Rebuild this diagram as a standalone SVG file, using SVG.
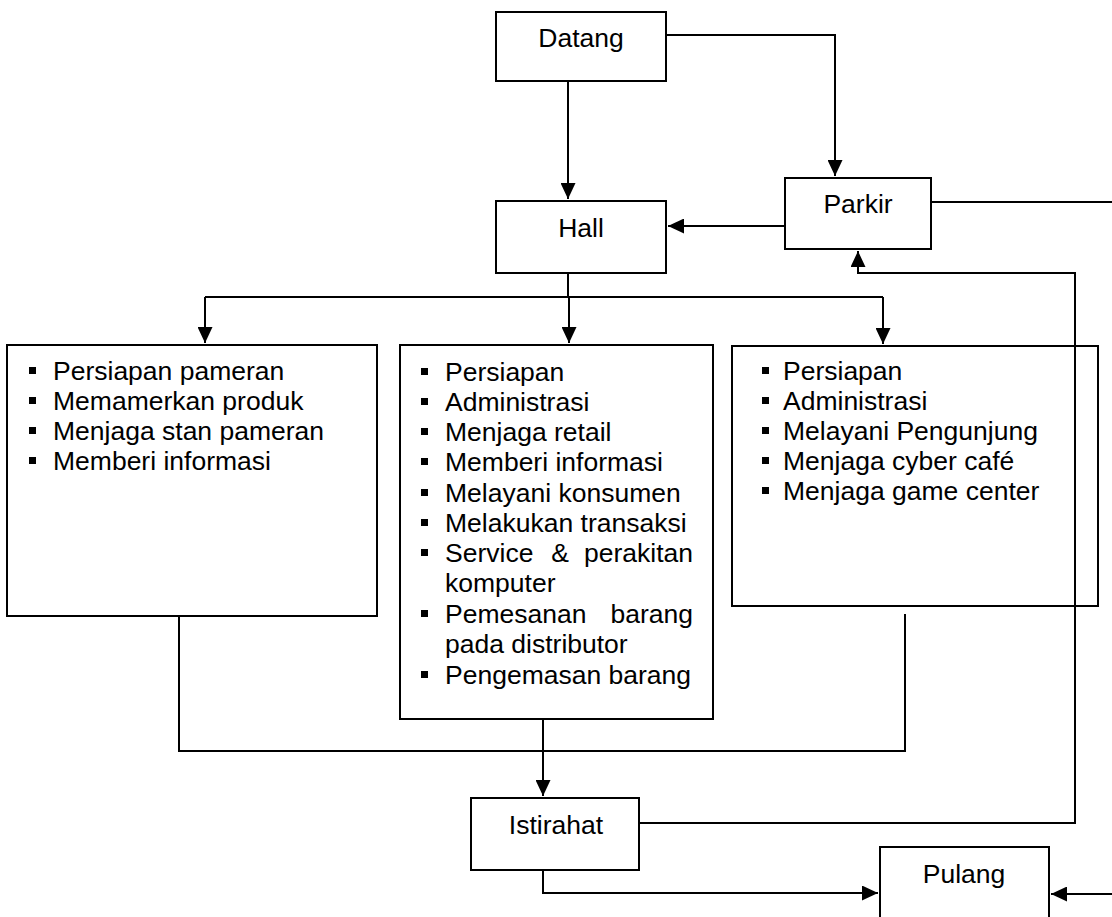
<svg xmlns="http://www.w3.org/2000/svg" width="1112" height="917" viewBox="0 0 1112 917">
<defs>
<marker id="ah" markerWidth="16" markerHeight="15" refX="16" refY="7.5" orient="auto" markerUnits="userSpaceOnUse">
<path d="M0,0 L16,7.5 L0,15 Z" fill="#000"/>
</marker>
<style>
.box{fill:#fff;stroke:#000;stroke-width:2}
.t{font-family:"Liberation Sans",Arial,sans-serif;font-size:26.5px;fill:#000}
.c{text-anchor:middle}
.e{text-anchor:end}
.ln{fill:none;stroke:#000;stroke-width:2}
.b{fill:#000}
</style>
</defs>
<rect width="1112" height="917" fill="#fff"/>
<g id="connectors">
<path class="ln" d="M568,81 V199" marker-end="url(#ah)"/>
<path class="ln" d="M666,35 H835 V176" marker-end="url(#ah)"/>
<path class="ln" d="M785,226 H668" marker-end="url(#ah)"/>
<path class="ln" d="M931,202 H1112"/>
<path class="ln" d="M568,273 V297"/>
<path class="ln" d="M205,297 H883"/>
<path class="ln" d="M205,297 V343" marker-end="url(#ah)"/>
<path class="ln" d="M569,297 V343" marker-end="url(#ah)"/>
<path class="ln" d="M883,297 V344" marker-end="url(#ah)"/>
<path class="ln" d="M179,616 V751 H905 V614"/>
<path class="ln" d="M543,719 V796" marker-end="url(#ah)"/>
<path class="ln" d="M639,823 H1075 V273 H858 V251" marker-end="url(#ah)"/>
<path class="ln" d="M543,870 V893 H878" marker-end="url(#ah)"/>
<path class="ln" d="M1112,894 H1051" marker-end="url(#ah)"/>
</g>
<g id="datang">
<rect class="box" x="496" y="12" width="170" height="69"/>
<text class="t c" x="581" y="47">Datang</text>
</g>
<g id="hall">
<rect class="box" x="496" y="201" width="170" height="72"/>
<text class="t c" x="581" y="237">Hall</text>
</g>
<g id="parkir">
<rect class="box" x="785" y="178" width="146" height="71"/>
<text class="t c" x="858" y="213">Parkir</text>
</g>
<g id="pameran">
<rect class="box" x="7" y="345" width="370" height="271"/>
<rect class="b" x="29" y="367" width="7" height="7"/>
<text class="t" x="53" y="380">Persiapan pameran</text>
<rect class="b" x="29" y="397" width="7" height="7"/>
<text class="t" x="53" y="410">Memamerkan produk</text>
<rect class="b" x="29" y="427" width="7" height="7"/>
<text class="t" x="53" y="440">Menjaga stan pameran</text>
<rect class="b" x="29" y="457" width="7" height="7"/>
<text class="t" x="53" y="470">Memberi informasi</text>
</g>
<g id="retail">
<rect class="box" x="400" y="345" width="313" height="374"/>
<rect class="b" x="421" y="368" width="7" height="7"/>
<text class="t" x="445" y="381">Persiapan</text>
<rect class="b" x="421" y="398" width="7" height="7"/>
<text class="t" x="445" y="411">Administrasi</text>
<rect class="b" x="421" y="428" width="7" height="7"/>
<text class="t" x="445" y="441">Menjaga retail</text>
<rect class="b" x="421" y="458" width="7" height="7"/>
<text class="t" x="445" y="471">Memberi informasi</text>
<rect class="b" x="421" y="489" width="7" height="7"/>
<text class="t" x="445" y="502">Melayani konsumen</text>
<rect class="b" x="421" y="519" width="7" height="7"/>
<text class="t" x="445" y="532">Melakukan transaksi</text>
<rect class="b" x="421" y="549" width="7" height="7"/>
<text class="t" x="445" y="562">Service</text>
<text class="t c" x="560" y="562">&amp;</text>
<text class="t e" x="693" y="562">perakitan</text>
<text class="t" x="445" y="592">komputer</text>
<rect class="b" x="421" y="610" width="7" height="7"/>
<text class="t" x="445" y="623">Pemesanan</text>
<text class="t e" x="693" y="623">barang</text>
<text class="t" x="445" y="653">pada distributor</text>
<rect class="b" x="421" y="671" width="7" height="7"/>
<text class="t" x="445" y="684">Pengemasan barang</text>
</g>
<g id="cafe">
<rect class="box" x="732" y="346" width="366" height="260"/>
<rect class="b" x="762" y="367" width="7" height="7"/>
<text class="t" x="783" y="380">Persiapan</text>
<rect class="b" x="762" y="397" width="7" height="7"/>
<text class="t" x="783" y="410">Administrasi</text>
<rect class="b" x="762" y="427" width="7" height="7"/>
<text class="t" x="783" y="440">Melayani Pengunjung</text>
<rect class="b" x="762" y="457" width="7" height="7"/>
<text class="t" x="783" y="470">Menjaga cyber café</text>
<rect class="b" x="762" y="487" width="7" height="7"/>
<text class="t" x="783" y="500">Menjaga game center</text>
</g>
<path class="ln" d="M1075,346 V606"/>
<g id="istirahat">
<rect class="box" x="471" y="798" width="168" height="72"/>
<text class="t c" x="556" y="834">Istirahat</text>
</g>
<g id="pulang">
<rect class="box" x="880" y="847" width="169" height="80"/>
<text class="t c" x="964" y="883">Pulang</text>
</g>
</svg>
